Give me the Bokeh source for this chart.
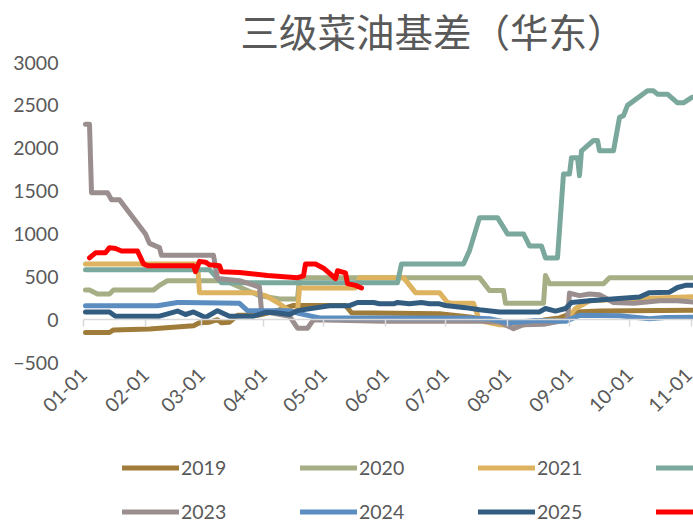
import pandas as pd
from math import pi
from bokeh.plotting import figure
from bokeh.models import (Range1d, FixedTicker, LinearAxis, Legend, LegendItem,
                          Label, ColumnDataSource)
from bokeh.embed import file_html
from bokeh.resources import INLINE

TITLE = "三级菜油基差（华东）"
YEARS = ["2019", "2020", "2021", "2022", "2023", "2024", "2025", "2026"]
COLORS = ["#A07C3A", "#A5AE84", "#DDB35F", "#7BA89C", "#9A8E8E", "#5B8DC0", "#335D80", "#FF0000"]

MONTH_LABELS = ["01-01", "02-01", "03-01", "04-01", "05-01", "06-01",
                "07-01", "08-01", "09-01", "10-01", "11-01", "12-01"]
Y_TICKS = [-500, 0, 500, 1000, 1500, 2000, 2500, 3000]

d2019 = ["01-02", "01-14", "01-16", "02-03", "02-25", "02-28", "03-05", "03-09", "03-11", "03-15",
         "03-19", "03-29", "03-31", "04-07", "04-16", "05-12", "05-15", "06-28", "07-13", "07-28",
         "08-12", "08-20", "08-27", "09-04", "09-16", "11-01", "11-03"]
v2019 = [-150, -150, -120, -110, -70, -35, -30, 0, -35, -30,
         50, 50, 60, 100, 165, 165, 80, 70, 30, -20,
         -40, 0, 20, 90, 100, 110, 110]

d2020 = ["01-02", "01-04", "01-08", "01-14", "01-16", "02-05", "02-08", "02-12", "03-13", "03-20",
         "03-30", "04-09", "04-18", "04-19", "07-18", "07-23", "07-30", "07-31", "08-19", "08-20",
         "08-22", "09-18", "09-21", "11-05"]
v2020 = [345, 345, 300, 300, 345, 345, 400, 455, 455, 380,
         280, 240, 240, 490, 490, 340, 340, 190, 190, 515,
         420, 420, 490, 490]

d2021 = ["01-02", "02-27", "02-28", "03-27", "04-02", "04-08", "04-14", "04-18", "04-19", "05-17",
         "05-19", "06-10", "06-16", "06-28", "07-02", "07-05", "07-15", "07-18", "07-28", "08-07",
         "08-20", "08-30", "09-04", "09-11", "10-01", "11-05"]
v2021 = [650, 650, 315, 315, 280, 200, 105, 100, 370, 370,
         490, 490, 315, 315, 200, 190, 190, -10, -60, -70,
         -20, -10, 130, 220, 240, 270]

d2022 = ["01-02", "03-05", "03-11", "06-07", "06-09", "07-10", "07-13", "07-18", "07-27", "08-01",
         "08-09", "08-12", "08-18", "08-20", "08-26", "08-29", "09-01", "09-02", "09-05", "09-06",
         "09-07", "09-13", "09-15", "09-16", "09-23", "09-26", "09-28", "09-30", "10-10", "10-13",
         "10-15", "10-20", "10-25", "10-28", "11-01", "11-05"]
v2022 = [583, 583, 430, 430, 650, 650, 805, 1190, 1190, 1000,
         1000, 860, 860, 720, 720, 1700, 1700, 1890, 1890, 1680,
         1970, 2090, 2090, 1970, 1970, 2360, 2380, 2500, 2670, 2670,
         2630, 2630, 2530, 2530, 2590, 2620]

d2023 = ["01-02", "01-04", "01-05", "01-13", "01-15", "01-19", "02-01", "02-03", "02-08", "02-09",
         "03-07", "03-09", "03-20", "03-30", "03-31", "04-14", "04-18", "04-23", "04-26", "05-31",
         "07-20", "07-28", "08-04", "08-09", "08-19", "08-29", "08-31", "09-01", "09-06", "09-11",
         "09-16", "09-23", "10-03", "10-16", "10-25", "11-05"]
v2023 = [2280, 2280, 1480, 1480, 1400, 1400, 1000, 890, 840, 750,
         750, 480, 455, 380, 100, 40, -100, -100, 0, -20,
         -20, -30, -105, -60, -55, -10, 0, 310, 280, 300,
         290, 200, 190, 220, 220, 200]

d2024 = ["01-02", "02-07", "02-17", "02-20", "03-20", "03-24", "04-14", "04-19", "04-29", "07-13",
         "07-23", "08-02", "08-15", "08-30", "09-06", "09-26", "10-11", "10-19", "11-05"]
v2024 = [163, 163, 200, 200, 190, 105, 105, 70, 20, 20,
         10, -40, -10, -20, 50, 45, 10, 25, 30]

d2025 = ["01-02", "01-14", "01-17", "02-08", "02-17", "02-21", "02-25", "03-03", "03-09", "03-15",
         "03-27", "04-02", "04-07", "04-14", "04-18", "05-04", "05-14", "05-18", "05-26", "05-29",
         "06-05", "06-07", "06-13", "06-19", "06-23", "06-28", "07-01", "07-11", "07-18", "07-28",
         "08-17", "08-20", "08-25", "08-30", "09-02", "09-11", "09-24", "10-06", "10-11", "10-21",
         "10-25", "10-29", "11-05"]
v2025 = [90, 90, 40, 40, 100, 60, 90, 25, 105, 40,
         40, 85, 80, 60, 105, 163, 163, 200, 200, 185,
         185, 200, 185, 200, 185, 185, 165, 140, 115, 90,
         90, 130, 100, 130, 200, 220, 245, 265, 315, 320,
         375, 400, 400]

d2026 = ["01-04", "01-07", "01-12", "01-14", "01-17", "01-20", "01-28", "01-31", "02-02", "02-25",
         "02-26", "02-28", "03-03", "03-05", "03-10", "03-11", "03-20", "04-03", "04-18", "04-21",
         "04-22", "04-27", "05-01", "05-07", "05-08", "05-12", "05-13", "05-17", "05-20"]
v2026 = [720, 780, 780, 840, 830, 800, 800, 650, 630, 630,
         560, 680, 670, 640, 630, 560, 550, 515, 490, 510,
         650, 650, 600, 480, 570, 545, 420, 400, 370]

SERIES_DATES = [d2019, d2020, d2021, d2022, d2023, d2024, d2025, d2026]
SERIES_VALUES = [v2019, v2020, v2021, v2022, v2023, v2024, v2025, v2026]


def to_day(md):
    # day index within a (non-leap) year, 01-01 -> 0
    return pd.Timestamp("2021-" + md).dayofyear - 1


month_days = [to_day(m) for m in MONTH_LABELS]

TXT = "#595959"
FONT = "Lato"

# The frame covers the whole canvas; value area occupies page x 83..693, y 62..362.
W, H = 693, 524
PLOT_L, PLOT_T, PLOT_B = 83, 62, 362
Y_MIN, Y_MAX = -500, 3000
UPP = (Y_MAX - Y_MIN) / (PLOT_B - PLOT_T)          # value units per pixel
DPP = 0.5                                           # days per pixel
x_range = Range1d(-PLOT_L * DPP, (W - PLOT_L) * DPP)
y_range = Range1d(Y_MIN - (H - PLOT_B) * UPP, Y_MAX + PLOT_T * UPP)

p = figure(width=W, height=H, x_range=x_range, y_range=y_range,
           output_backend="svg", toolbar_location=None, title=None,
           x_axis_type=None, y_axis_type=None,
           min_border_left=0, min_border_right=0, min_border_top=0, min_border_bottom=0)
p.outline_line_color = None
p.background_fill_color = "white"
p.border_fill_color = "white"

# title
p.add_layout(Label(x=240, y=H - 29, x_units="screen", y_units="screen", text=TITLE,
                   text_align="left", text_baseline="middle", text_font="Noto Sans CJK SC",
                   text_font_size="38.5px", text_color=TXT))

# y axis, drawn at the start of the date axis
yax = LinearAxis(ticker=FixedTicker(ticks=Y_TICKS), fixed_location=0)
yax.axis_line_color = None
yax.major_tick_line_color = None
yax.minor_tick_line_color = None
yax.major_tick_in = 0
yax.major_tick_out = 0
yax.major_label_standoff = 25
yax.major_label_text_font = FONT
yax.major_label_text_font_size = "19.5px"
yax.major_label_text_color = TXT
p.add_layout(yax, "left")

# zero line axis with tick marks
zax = LinearAxis(ticker=FixedTicker(ticks=month_days), fixed_location=0, bounds=(0, 400))
zax.axis_line_color = "#D9D9D9"
zax.axis_line_width = 1.5
zax.major_tick_line_color = "#D9D9D9"
zax.major_tick_line_width = 1.5
zax.major_tick_in = 0
zax.major_tick_out = 7
zax.minor_tick_line_color = None
zax.major_label_text_alpha = 0
zax.major_label_text_font_size = "1px"
zax.major_label_standoff = 0
p.add_layout(zax, "below")

# date labels under the value area
xax = LinearAxis(ticker=FixedTicker(ticks=month_days), fixed_location=Y_MIN,
                 major_label_overrides={d: m for d, m in zip(month_days, MONTH_LABELS)})
xax.axis_line_color = None
xax.major_tick_line_color = None
xax.minor_tick_line_color = None
xax.major_tick_in = 0
xax.major_tick_out = 0
xax.major_label_orientation = pi / 4
xax.major_label_standoff = 9
xax.major_label_text_font = FONT
xax.major_label_text_font_size = "19.5px"
xax.major_label_text_color = TXT
p.add_layout(xax, "below")

items = []
for yr, col, ds, vs in zip(YEARS, COLORS, SERIES_DATES, SERIES_VALUES):
    src = ColumnDataSource(dict(x=[to_day(d) for d in ds], y=vs))
    r = p.line("x", "y", source=src, line_color=col, line_width=5,
               line_join="round", line_cap="round")
    items.append(LegendItem(label=yr, renderers=[r]))

legend = Legend(items=items, location=(122, 1), orientation="horizontal", ncols=4)
legend.margin = 0
legend.padding = 0
legend.border_line_color = None
legend.background_fill_alpha = 0
legend.glyph_width = 57
legend.glyph_height = 23
legend.label_height = 23
legend.label_width = 98
legend.label_standoff = 2
legend.spacing = 21
legend.label_text_font = FONT
legend.label_text_font_size = "19.5px"
legend.label_text_color = TXT
legend.label_text_baseline = "middle"
p.add_layout(legend, "center")

open("out.html", "w").write(file_html(p, INLINE))
